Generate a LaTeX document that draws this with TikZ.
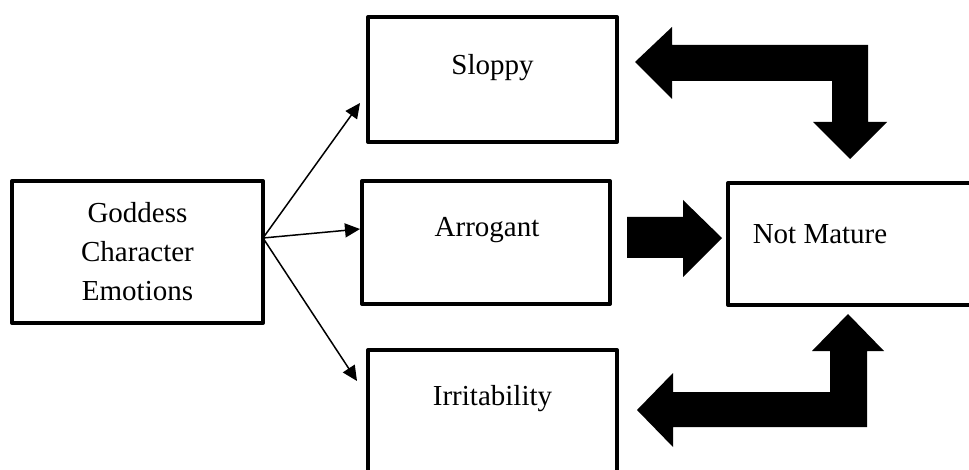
\documentclass[tikz,border=0pt]{standalone}
\usepackage{fontspec}
\setmainfont{Liberation Serif}
\usetikzlibrary{arrows.meta}
\begin{document}
\begin{tikzpicture}[x=0.5pt,y=-0.5pt,
  box/.style={draw=black,line width=2pt,line join=round,fill=none,inner sep=0pt,outer sep=0pt},
  lbl/.style={font=\fontsize{14.5}{19.5}\selectfont,align=center,inner sep=0pt},
  thin/.style={line width=0.75pt,-{Triangle[length=7.5pt,width=7pt]}},
  big/.style={fill=black,draw=none}]
\useasboundingbox (0,0) rectangle (969,470);
% boxes
\node[box,minimum width=125.5pt,minimum height=71pt] (g) at (137.5,252) {};
\node[lbl] (gt) at (137.5,252) {Goddess\\Character\\Emotions};
\node[box,minimum width=124.5pt,minimum height=62.5pt] (s) at (492.5,79.5) {};
\node[lbl] (st) at (492.5,68) {Sloppy};
\node[box,minimum width=124pt,minimum height=61.5pt] (a) at (486,242.5) {};
\node[lbl] (at) at (487,230) {Arrogant};
\node[box,minimum width=124.5pt,minimum height=62.5pt] (i) at (492.5,412.5) {};
\node[lbl] (it) at (492.5,399) {Irritability};
\node[box,minimum width=124pt,minimum height=61pt] (n) at (852,244) {};
\node[lbl] (nt) at (820,234) {Not Mature};
% thin arrows
\coordinate (gs) at (263,238);
\coordinate (ts) at (360,103);
\coordinate (ta) at (360,229);
\coordinate (ti) at (357,381);
\draw[thin] (gs) -- (ts);
\draw[thin] (gs) -- (ta);
\draw[thin] (gs) -- (ti);
% big block arrows
\fill[big] (635,62) -- (672,27) -- (672,45) -- (868,45) -- (868,122) -- (887,122)
  -- (850,159) -- (813,122) -- (832,122) -- (832,81) -- (672,81) -- (672,99) -- cycle;
\fill[big] (627,217) -- (683,217) -- (683,200) -- (722,238) -- (683,277) -- (683,258)
  -- (627,258) -- cycle;
\fill[big] (637,410) -- (673,373) -- (673,392) -- (830,392) -- (830,351) -- (812,351)
  -- (848,314) -- (884,351) -- (867,351) -- (867,427) -- (673,427) -- (673,447) -- cycle;
\end{tikzpicture}
\end{document}
